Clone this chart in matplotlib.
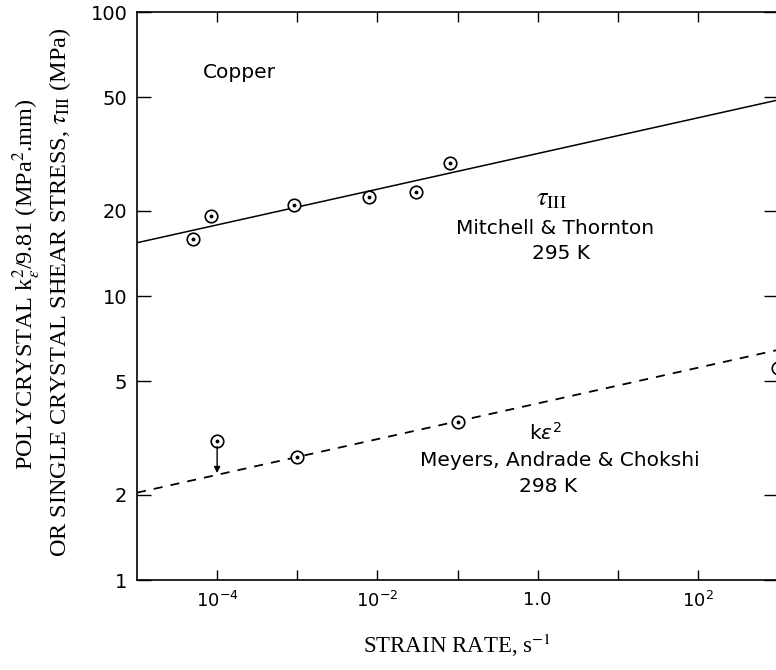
import matplotlib
matplotlib.use('Agg')
import matplotlib.pyplot as plt

# Mitchell & Thornton, single crystal tau_III, 295 K
tau_rate = [5.0e-5, 8.5e-5, 9.1e-4, 7.9e-3, 3.0e-2, 8.1e-2]
tau_stress = [15.9, 19.1, 20.9, 22.3, 23.2, 29.4]

# Meyers, Andrade & Chokshi, polycrystal k_eps^2/9.81, 298 K
ke_rate = [1.0e-4, 1.0e-3, 1.0e-1, 1.0e3]
ke_value = [3.09, 2.70, 3.61, 5.6]
ke_arrow_top = 2.95   # first point is an upper bound, arrow down to the line
ke_arrow_to = 2.38

# straight lines drawn through each set
fit_rate = [1e-5, 1e3]
tau_fit = [15.4, 49.0]
ke_fit = [2.03, 6.46]

y_ticks = [1, 2, 5, 10, 20, 50, 100]
y_labels = ['1', '2', '5', '10', '20', '50', '100']
x_ticks = [1e-4, 1e-3, 1e-2, 1e-1, 1e0, 1e1, 1e2]
x_labels = [r'$10^{-4}$', '', r'$10^{-2}$', '', '1.0', '', r'$10^{2}$']

plt.rcParams['font.family'] = 'DejaVu Sans'
plt.rcParams['mathtext.fontset'] = 'dejavusans'

fig = plt.figure(figsize=(7.76, 6.70), dpi=100)
ax = fig.add_axes([137/776, 90/670, 641/776, 568/670])

ax.set_xscale('log')
ax.set_yscale('log')
ax.set_xlim(1e-5, 1e3)
ax.set_ylim(1, 100)

# fitted lines
ax.plot(fit_rate, tau_fit, color='black', lw=1.1, solid_capstyle='butt')
ax.plot(fit_rate, ke_fit, color='black', lw=1.3, dashes=(5, 4.5))

# data points: open circle with a dot in the middle
for xs, ys in [(tau_rate, tau_stress), (ke_rate, ke_value)]:
    ax.plot(xs, ys, 'o', ms=9, mfc='white', mec='black', mew=1.2,
            clip_on=False, zorder=3)
    ax.plot(xs, ys, 'o', ms=1.8, color='black', clip_on=False, zorder=4)

ax.annotate('', xy=(ke_rate[0], ke_arrow_to), xytext=(ke_rate[0], ke_arrow_top),
            arrowprops=dict(arrowstyle='-|>', color='black', lw=1.0,
                            mutation_scale=9, shrinkA=0, shrinkB=0))

# ticks
ax.minorticks_off()
ax.set_yticks(y_ticks)
ax.set_yticklabels(y_labels)
ax.set_xticks(x_ticks)
ax.set_xticklabels(x_labels)
ax.tick_params(axis='y', direction='in', length=10, width=1.0, pad=7,
               labelsize=14, right=True)
ax.tick_params(axis='x', direction='in', length=7, width=1.0, pad=8,
               labelsize=13, top=True)
ax.tick_params(which='minor', length=0)
for s in ax.spines.values():
    s.set_linewidth(1.2)

# labels inside the plot
txt = dict(transform=ax.transAxes, fontsize=14.5, color='black')
ax.text(0.103, 0.894, 'Copper', ha='left', va='center', **txt)
ax.text(0.647, 0.671, r'$\tau_{\mathrm{III}}$', ha='center', va='center',
        transform=ax.transAxes, fontsize=19, math_fontfamily='stix')
ax.text(0.652, 0.618, 'Mitchell & Thornton', ha='center', va='center', **txt)
ax.text(0.661, 0.574, '295 K', ha='center', va='center', **txt)
ax.text(0.638, 0.259, r'k$\varepsilon^{2}$', ha='center', va='center', **txt)
ax.text(0.660, 0.211, 'Meyers, Andrade & Chokshi', ha='center', va='center', **txt)
ax.text(0.641, 0.164, '298 K', ha='center', va='center', **txt)

# axis titles (serif, like the original typeset labels)
lab = dict(family='Liberation Serif', fontsize=17.5, rotation=90,
           ha='center', va='center', math_fontfamily='stix')
fig.text(27/776, 1 - 284/670,
         r'POLYCRYSTAL k$_{\varepsilon}^{2}$/9.81 (MPa$^{2}$.mm)', **lab)
fig.text(60/776, 1 - 292/670,
         r'OR SINGLE CRYSTAL SHEAR STRESS, $\tau_{\mathrm{III}}$ (MPa)', **lab)
fig.text(457/776, 1 - 645/670, r'STRAIN RATE, s$^{-1}$',
         family='Liberation Serif', fontsize=16.5, ha='center', va='center',
         math_fontfamily='stix')

fig.savefig('out.png', dpi=100)
